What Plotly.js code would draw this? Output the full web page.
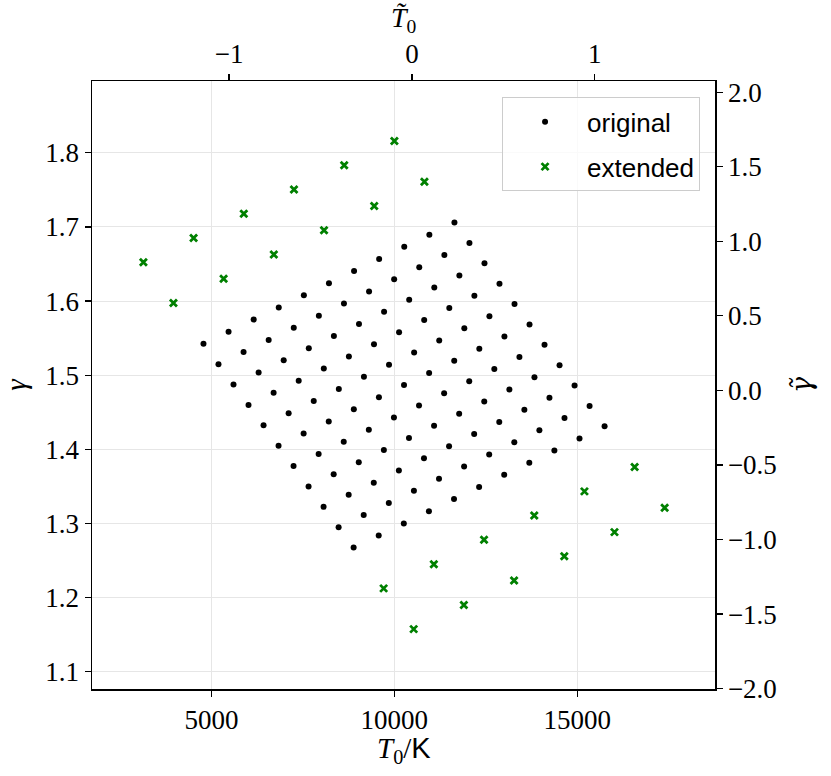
<!DOCTYPE html>
<html>
<head>
<meta charset="utf-8">
<script src="https://cdn.plot.ly/plotly-3.0.1.min.js"></script>
<style>
  html, body { margin: 0; padding: 0; background: white; }
  #chart { width: 831px; height: 776px; }
</style>
</head>
<body>
<div id="chart"></div>
<script>
// original grid points (T0 in K, gamma)
const origT0 = [
  4782, 5468, 6154, 6840, 7526, 8212, 8898, 9584, 10270, 10956, 11642,
  5192, 5878, 6564, 7250, 7936, 8622, 9308, 9994, 10680, 11366, 12052,
  5603, 6289, 6975, 7661, 8347, 9033, 9719, 10405, 11091, 11777, 12463,
  6013, 6699, 7385, 8071, 8757, 9443, 10129, 10815, 11501, 12187, 12873,
  6424, 7110, 7796, 8482, 9168, 9854, 10540, 11226, 11912, 12598, 13284,
  6834, 7520, 8206, 8892, 9578, 10264, 10950, 11636, 12322, 13008, 13694,
  7244, 7930, 8616, 9302, 9988, 10674, 11360, 12046, 12732, 13418, 14104,
  7655, 8341, 9027, 9713, 10399, 11085, 11771, 12457, 13143, 13829, 14515,
  8065, 8751, 9437, 10123, 10809, 11495, 12181, 12867, 13553, 14239, 14925,
  8476, 9162, 9848, 10534, 11220, 11906, 12592, 13278, 13964, 14650, 15336,
  8886, 9572, 10258, 10944, 11630, 12316, 13002, 13688, 14374, 15060, 15746
];
const origGamma = [
  1.5423, 1.5587, 1.5750, 1.5914, 1.6078, 1.6242, 1.6405, 1.6569, 1.6733, 1.6896, 1.7060,
  1.5148, 1.5312, 1.5475, 1.5639, 1.5803, 1.5967, 1.6130, 1.6294, 1.6458, 1.6621, 1.6785,
  1.4873, 1.5037, 1.5200, 1.5364, 1.5528, 1.5692, 1.5855, 1.6019, 1.6183, 1.6346, 1.6510,
  1.4598, 1.4762, 1.4925, 1.5089, 1.5253, 1.5417, 1.5580, 1.5744, 1.5908, 1.6071, 1.6235,
  1.4323, 1.4487, 1.4650, 1.4814, 1.4978, 1.5142, 1.5305, 1.5469, 1.5633, 1.5796, 1.5960,
  1.4048, 1.4212, 1.4375, 1.4539, 1.4703, 1.4867, 1.5030, 1.5194, 1.5358, 1.5521, 1.5685,
  1.3773, 1.3937, 1.4100, 1.4264, 1.4428, 1.4592, 1.4755, 1.4919, 1.5083, 1.5246, 1.5410,
  1.3498, 1.3662, 1.3825, 1.3989, 1.4153, 1.4317, 1.4480, 1.4644, 1.4808, 1.4971, 1.5135,
  1.3223, 1.3387, 1.3550, 1.3714, 1.3878, 1.4042, 1.4205, 1.4369, 1.4533, 1.4696, 1.4860,
  1.2948, 1.3112, 1.3275, 1.3439, 1.3603, 1.3767, 1.3930, 1.4094, 1.4258, 1.4421, 1.4585,
  1.2673, 1.2837, 1.3000, 1.3164, 1.3328, 1.3492, 1.3655, 1.3819, 1.3983, 1.4146, 1.4310
];

// extended points
const extT0 = [
  3140, 4512, 5884, 7256, 8628, 10000,
  3961, 5333, 6705, 8077, 9449, 10821,
  9707, 11079, 12451, 13823, 15195, 16567,
  10528, 11900, 13272, 14644, 16016, 17388
];
const extGamma = [
  1.6523, 1.6850, 1.7178, 1.7505, 1.7832, 1.8160,
  1.5973, 1.6300, 1.6628, 1.6955, 1.7282, 1.7610,
  1.2123, 1.2450, 1.2778, 1.3105, 1.3432, 1.3760,
  1.1573, 1.1900, 1.2228, 1.2555, 1.2882, 1.3210
];

// scaling used for the tilde axes
const t0Mean = 10480, t0Std = 5000;
const gammaMean = 1.4794, gammaStd = 0.2012;

const xRange = [1735, 18764];
const yRange = [1.0765, 1.897];

const serif = "Liberation Serif, DejaVu Serif, serif";
const sans = "Liberation Sans, DejaVu Sans, sans-serif";

const traces = [
  {
    x: origT0, y: origGamma, type: "scatter", mode: "markers", name: "original",
    legendgroup: "a",
    marker: {color: "black", size: 6}
  },
  {
    x: extT0, y: extGamma, type: "scatter", mode: "markers", name: "extended",
    legendgroup: "b",
    marker: {color: "#008000", symbol: "x-thin", size: 7, line: {color: "#008000", width: 2.8}}
  },
  // empty trace so the top/right axes get drawn
  {x: [], y: [], xaxis: "x2", yaxis: "y2", showlegend: false, type: "scatter", mode: "markers", hoverinfo: "skip"}
];

const axisCommon = {
  showline: true, linecolor: "black", linewidth: 1.5,
  ticks: "outside", ticklen: 6, tickwidth: 1.2, tickcolor: "black",
  zeroline: false, automargin: false,
  tickfont: {family: serif, size: 27, color: "black"}
};

const layout = {
  width: 831, height: 776,
  margin: {l: 92, r: 116, t: 81, b: 87},
  paper_bgcolor: "white", plot_bgcolor: "white",
  showlegend: true,
  legend: {
    x: 0.976, y: 0.973, xanchor: "right", yanchor: "top",
    bgcolor: "rgba(255,255,255,0.8)", bordercolor: "#cccccc", borderwidth: 1,
    font: {family: sans, size: 26, color: "black"},
    itemwidth: 74, tracegroupgap: 8
  },
  xaxis: Object.assign({}, axisCommon, {
    range: xRange, dtick: 5000, tick0: 0, tickformat: "d",
    showgrid: true, gridcolor: "#e6e6e6", gridwidth: 1
  }),
  yaxis: Object.assign({}, axisCommon, {
    range: yRange, dtick: 0.1, tick0: 0, tickformat: ".1f",
    showgrid: true, gridcolor: "#e6e6e6", gridwidth: 1,
    title: {text: "<i>γ</i>", font: {family: serif, size: 29, color: "black"}, standoff: 16}
  }),
  xaxis2: Object.assign({}, axisCommon, {
    overlaying: "x", side: "top", anchor: "y",
    range: xRange.map(v => (v - t0Mean) / t0Std), dtick: 1, tick0: 0, tickformat: "d",
    showgrid: false
  }),
  yaxis2: Object.assign({}, axisCommon, {
    overlaying: "y", side: "right", anchor: "x",
    range: yRange.map(v => (v - gammaMean) / gammaStd), dtick: 0.5, tick0: 0, tickformat: ".1f",
    showgrid: false,
    title: {text: "<i>γ̃</i>", font: {family: "DejaVu Serif, serif", size: 27, color: "black"}, standoff: 16}
  }),
  // x titles placed as annotations so they sit as close to the ticks as in the original
  annotations: [
    {
      text: "<i>T</i><sub>0</sub>/<span style='font-family:Liberation Sans'>K</span>",
      xref: "paper", yref: "paper", x: 0.5, y: -0.1, xanchor: "center", yanchor: "middle",
      showarrow: false, font: {family: serif, size: 29, color: "black"}
    },
    {
      text: "<i>T̃</i><sub>0</sub>",
      xref: "paper", yref: "paper", x: 0.5, y: 1.101, xanchor: "center", yanchor: "middle",
      showarrow: false, font: {family: serif, size: 28, color: "black"}
    }
  ]
};

Plotly.newPlot("chart", traces, layout, {displayModeBar: false, staticPlot: true});
</script>
</body>
</html>
